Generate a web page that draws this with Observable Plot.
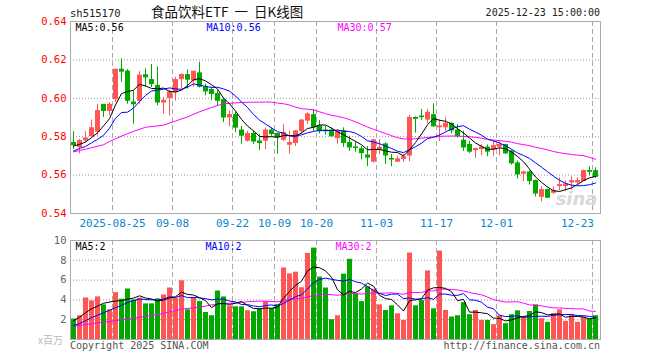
<!DOCTYPE html>
<html><head><meta charset="utf-8">
<script src="https://cdn.jsdelivr.net/npm/d3@7"></script>
<script src="https://cdn.jsdelivr.net/npm/@observablehq/plot@0.6"></script>
<style>
body{margin:0;background:#fff;}
#wrap{position:relative;width:660px;height:360px;overflow:hidden;font-family:"DejaVu Sans Mono",monospace;}
#wrap svg{position:absolute;left:0;}
.t{position:absolute;white-space:nowrap;line-height:1;}
</style></head><body><div id="wrap"></div>
<script>
// ---- data ----
const code = "sh515170";
const title = "食品饮料ETF 一 日K线图";
const stamp = "2025-12-23 15:00:00";
const tickIdx = [7, 17, 27, 34, 41, 51, 61, 71, 87];
const tickLabels = ["2025-08-25","09-08","09-22","10-09","10-20","11-03","11-17","12-01","12-23"];
const priceTicks = [0.54, 0.56, 0.58, 0.60, 0.62, 0.64];
const volTicks = [2, 4, 6, 8, 10];
const priceLegend = ["MA5:0.56", "MA10:0.56", "MA30:0.57"];
const volLegend = ["MA5:2", "MA10:2", "MA30:2"];

const open = [0.5767,0.5746,0.5781,0.5803,0.5826,0.5966,0.5934,0.5996,0.6149,0.6139,
0.5978,0.5987,0.6120,0.6095,0.6065,0.5978,0.6001,0.6031,0.6100,0.6121,
0.6092,0.6130,0.6057,0.6043,0.6022,0.5990,0.5900,0.5913,0.5832,0.5779,
0.5814,0.5775,0.5779,0.5832,0.5814,0.5784,0.5758,0.5767,0.5828,0.5884,
0.5912,0.5854,0.5832,0.5832,0.5793,0.5828,0.5767,0.5744,0.5735,0.5702,
0.5670,0.5733,0.5760,0.5684,0.5670,0.5684,0.5702,0.5898,0.5905,0.5889,
0.5912,0.5849,0.5849,0.5867,0.5832,0.5779,0.5757,0.5730,0.5736,0.5743,
0.5734,0.5748,0.5757,0.5722,0.5661,0.5607,0.5614,0.5569,0.5487,0.5522,
0.5508,0.5543,0.5543,0.5562,0.5562,0.5569,0.5621,0.5621];
const close = [0.5756,0.5777,0.5791,0.5844,0.5934,0.5934,0.5966,0.6149,0.6139,0.5987,
0.5969,0.6118,0.6109,0.6074,0.5978,0.5987,0.6031,0.6095,0.6121,0.6097,
0.6139,0.6060,0.6036,0.6022,0.5987,0.5900,0.5913,0.5847,0.5805,0.5814,
0.5775,0.5767,0.5832,0.5814,0.5797,0.5819,0.5767,0.5828,0.5884,0.5916,
0.5849,0.5828,0.5828,0.5802,0.5825,0.5767,0.5744,0.5741,0.5714,0.5691,
0.5781,0.5742,0.5702,0.5681,0.5682,0.5693,0.5898,0.5893,0.5902,0.5925,
0.5854,0.5854,0.5867,0.5832,0.5802,0.5744,0.5722,0.5736,0.5744,0.5722,
0.5751,0.5757,0.5713,0.5661,0.5603,0.5614,0.5569,0.5504,0.5522,0.5482,
0.5517,0.5548,0.5551,0.5569,0.5569,0.5621,0.5617,0.5591];
const high = [0.5826,0.5786,0.5826,0.5887,0.5969,0.5966,0.5978,0.6149,0.6205,0.6149,
0.6039,0.6139,0.6153,0.6176,0.6162,0.6004,0.6043,0.6109,0.6127,0.6148,
0.6139,0.6188,0.6074,0.6057,0.6039,0.6001,0.5934,0.5926,0.5854,0.5828,
0.5828,0.5811,0.5846,0.5846,0.5819,0.5863,0.5828,0.5832,0.5889,0.5925,
0.5942,0.5884,0.5854,0.5846,0.5837,0.5846,0.5802,0.5775,0.5749,0.5749,
0.5786,0.5786,0.5768,0.5707,0.5698,0.5707,0.5912,0.5903,0.5942,0.5942,
0.5972,0.5889,0.5898,0.5872,0.5863,0.5828,0.5777,0.5739,0.5757,0.5757,
0.5777,0.5774,0.5760,0.5730,0.5673,0.5621,0.5621,0.5574,0.5539,0.5527,
0.5539,0.5586,0.5569,0.5591,0.5586,0.5626,0.5643,0.5638];
const low = [0.5734,0.5711,0.5768,0.5795,0.5803,0.5900,0.5908,0.5978,0.6083,0.5969,
0.5865,0.5969,0.6057,0.6057,0.5961,0.5917,0.5908,0.5987,0.6048,0.6048,
0.6057,0.6053,0.6013,0.5987,0.5961,0.5873,0.5851,0.5821,0.5761,0.5772,
0.5758,0.5728,0.5732,0.5802,0.5709,0.5775,0.5709,0.5749,0.5814,0.5863,
0.5828,0.5814,0.5807,0.5797,0.5761,0.5744,0.5723,0.5719,0.5679,0.5644,
0.5663,0.5707,0.5656,0.5644,0.5665,0.5667,0.5670,0.5819,0.5884,0.5867,
0.5849,0.5775,0.5828,0.5814,0.5793,0.5723,0.5713,0.5687,0.5701,0.5696,
0.5696,0.5701,0.5708,0.5652,0.5579,0.5565,0.5548,0.5487,0.5461,0.5478,
0.5499,0.5517,0.5517,0.5522,0.5548,0.5565,0.5597,0.5583];
const volume = [2.07,2.4,4.2,3.9,4.3,3.5,3.0,4.73,4.07,5.1,
4.0,4.17,3.6,3.6,4.1,4.5,5.2,4.17,5.93,3.0,
4.17,3.83,2.73,2.4,4.9,4.3,3.4,3.3,3.3,2.9,
2.8,3.13,3.8,3.13,3.53,7.23,6.63,6.8,5.23,8.7,
9.23,6.3,5.2,2.0,2.4,6.6,8.1,4.6,3.83,5.33,
5.07,3.5,2.93,3.4,2.6,1.93,8.73,3.4,3.93,6.93,
3.1,8.93,2.93,2.27,2.4,3.73,2.5,2.93,1.93,1.93,
1.5,2.4,1.6,2.5,2.9,2.27,2.83,3.5,2.1,1.73,
2.6,3.0,1.83,2.5,1.73,2.27,2.07,2.4];

// moving-average values at the chart's left edge (their earlier history is off-picture)
const ma5Head = [0.5751, 0.5760, 0.5772, 0.5795];
const ma10Head = [0.5725, 0.5739, 0.5749, 0.5768, 0.5786, 0.5807, 0.5844, 0.5896, 0.5926];
const ma30HeadIdx = [0, 2, 5, 6, 8, 10, 12, 15, 17, 19, 21, 23, 25, 28];
const ma30Head = [0.5721, 0.5735, 0.5758, 0.5775, 0.5803, 0.5828, 0.5849, 0.5860, 0.5882, 0.5903, 0.5930, 0.5952, 0.5972, 0.5978];
const vma5Head = [1.9, 2.25, 2.7, 3.1];
const vma10Head = [1.4, 1.6, 1.9, 2.2, 2.45, 2.7, 2.95, 3.2, 3.45];
const vma30HeadIdx = [0, 4, 9, 14, 18, 21, 24, 28];
const vma30Head = [1.35, 1.67, 2.07, 2.5, 3.07, 3.27, 3.6, 3.73];

// ---- helpers ----
const N = close.length;
const idx = d3.range(N);
const RED = "#ff5555", GREEN = "#00a800", BLUE_TXT = "#0a86cc";
const colorOf = i => close[i] >= open[i] ? RED : GREEN;
function maLine(arr, k, headVals, headIdx) {
  const pts = headVals.map((v, j) => ({i: headIdx ? headIdx[j] : j, v}));
  for (let i = k - 1; i < N; i++) pts.push({i, v: d3.mean(arr.slice(i - k + 1, i + 1))});
  return pts;
}
const xScale = {type: "linear", domain: [-0.5, N - 0.5 + 1/3], axis: null};
const baseStyle = {fontFamily: "DejaVu Sans Mono, monospace", fontSize: "10px", background: "transparent", overflow: "visible"};

// ---- price panel ----
const main = Plot.plot({
  width: 660, height: 232,
  marginLeft: 70, marginRight: 60, marginTop: 21, marginBottom: 19,
  x: xScale,
  y: {domain: [priceTicks[0], priceTicks[priceTicks.length - 1]], axis: null},
  style: baseStyle,
  marks: [
    Plot.gridY(priceTicks.slice(1, -1), {stroke: "#999", strokeOpacity: 1, strokeDasharray: "1,2"}),
    Plot.ruleX(tickIdx, {x: d => d - 0.5, stroke: "#aaa", strokeDasharray: "5,3"}),
    Plot.ruleX(idx, {x: i => i, y1: i => low[i], y2: i => high[i], stroke: colorOf}),
    Plot.rect(idx, {x1: i => i - 0.5, x2: i => i + 0.5, insetLeft: 1,
      y1: i => Math.min(open[i], close[i]), y2: i => Math.max(open[i], close[i]),
      insetTop: -0.5, insetBottom: -0.5, fill: colorOf}),
    Plot.line(maLine(close, 30, ma30Head, ma30HeadIdx), {x: "i", y: "v", stroke: "#ff00ff", strokeWidth: 1}),
    Plot.line(maLine(close, 10, ma10Head), {x: "i", y: "v", stroke: "#0000ff", strokeWidth: 1}),
    Plot.line(maLine(close, 5, ma5Head), {x: "i", y: "v", stroke: "#000", strokeWidth: 1}),
    Plot.text(priceTicks, {y: d => d, frameAnchor: "left", dx: -4, textAnchor: "end", text: d => d.toFixed(2), fill: "#f00", fontSize: 10.5}),
    Plot.text(tickIdx.slice(0, -1), {x: d => d - 0.5, frameAnchor: "bottom", lineAnchor: "middle", dy: 10,
      text: (d, j) => tickLabels[j], fill: BLUE_TXT, fontSize: 11}),
    Plot.text(tickIdx.slice(-1), {x: d => d - 0.5, frameAnchor: "bottom", lineAnchor: "middle", dy: 10, dx: 1.5, textAnchor: "end",
      text: () => tickLabels[tickLabels.length - 1], fill: BLUE_TXT, fontSize: 11}),
    Plot.text([priceLegend[0]], {frameAnchor: "top-left", lineAnchor: "middle", dx: 5, dy: 6, fill: "#000"}),
    Plot.text([priceLegend[1]], {frameAnchor: "top-left", lineAnchor: "middle", dx: 136, dy: 6, fill: "#0000ff"}),
    Plot.text([priceLegend[2]], {frameAnchor: "top-left", lineAnchor: "middle", dx: 267, dy: 6, fill: "#ff00ff"}),
    Plot.text(["sina"], {frameAnchor: "bottom-right", dx: -3, dy: -9, fill: "#d8d8d8", fontSize: 18, fontStyle: "italic", fontWeight: "bold", fontFamily: "DejaVu Sans"}),
    Plot.frame({stroke: "#aaa"})
  ]
});
main.style.top = "0px";

// ---- volume panel ----
const vol = Plot.plot({
  width: 660, height: 128,
  marginLeft: 70, marginRight: 60, marginTop: 8, marginBottom: 21,
  x: xScale,
  y: {domain: [0, volTicks[volTicks.length - 1]], axis: null},
  style: baseStyle,
  marks: [
    Plot.gridY(volTicks.slice(0, -1), {stroke: "#999", strokeOpacity: 1, strokeDasharray: "1,2"}),
    Plot.ruleX(tickIdx, {x: d => d - 0.5, stroke: "#aaa", strokeDasharray: "5,3"}),
    Plot.rect(idx, {x1: i => i - 0.5, x2: i => i + 0.5, insetLeft: 1, y1: 0, y2: i => volume[i], fill: colorOf}),
    Plot.line(maLine(volume, 30, vma30Head, vma30HeadIdx), {x: "i", y: "v", stroke: "#ff00ff", strokeWidth: 1}),
    Plot.line(maLine(volume, 10, vma10Head), {x: "i", y: "v", stroke: "#0000ff", strokeWidth: 1}),
    Plot.line(maLine(volume, 5, vma5Head), {x: "i", y: "v", stroke: "#000", strokeWidth: 1}),
    Plot.text(volTicks, {y: d => d, frameAnchor: "left", dx: -4, textAnchor: "end", text: d => String(d), fill: "#666", fontSize: 10.5}),
    Plot.text([volLegend[0]], {frameAnchor: "top-left", lineAnchor: "middle", dx: 5, dy: 6, fill: "#000"}),
    Plot.text([volLegend[1]], {frameAnchor: "top-left", lineAnchor: "middle", dx: 135, dy: 6, fill: "#0000ff"}),
    Plot.text([volLegend[2]], {frameAnchor: "top-left", lineAnchor: "middle", dx: 265, dy: 6, fill: "#ff00ff"}),
    Plot.frame({stroke: "#aaa"})
  ]
});
vol.style.top = "232px";

const wrap = document.getElementById("wrap");
wrap.appendChild(main);
wrap.appendChild(vol);
function addText(txt, css) {
  const s = document.createElement("span");
  s.className = "t"; s.textContent = txt;
  Object.assign(s.style, css);
  wrap.appendChild(s);
}
addText(code, {left: "70px", top: "8px", fontSize: "10.5px", color: "#222"});
addText(title, {left: "151px", top: "5px", fontSize: "13.5px", color: "#111", fontFamily: "'Noto Sans CJK SC', sans-serif", wordSpacing: "3px"});
addText(stamp, {right: "60px", top: "8px", fontSize: "10px", color: "#222"});
addText("x百万", {left: "38px", top: "335px", fontSize: "10px", color: "#bbb", fontFamily: "'Noto Sans CJK SC', sans-serif"});
addText("Copyright 2025 SINA.COM", {left: "70px", top: "341px", fontSize: "10px", color: "#555"});
addText("http://finance.sina.com.cn", {right: "60px", top: "341px", fontSize: "10px", color: "#555"});
</script></body></html>
